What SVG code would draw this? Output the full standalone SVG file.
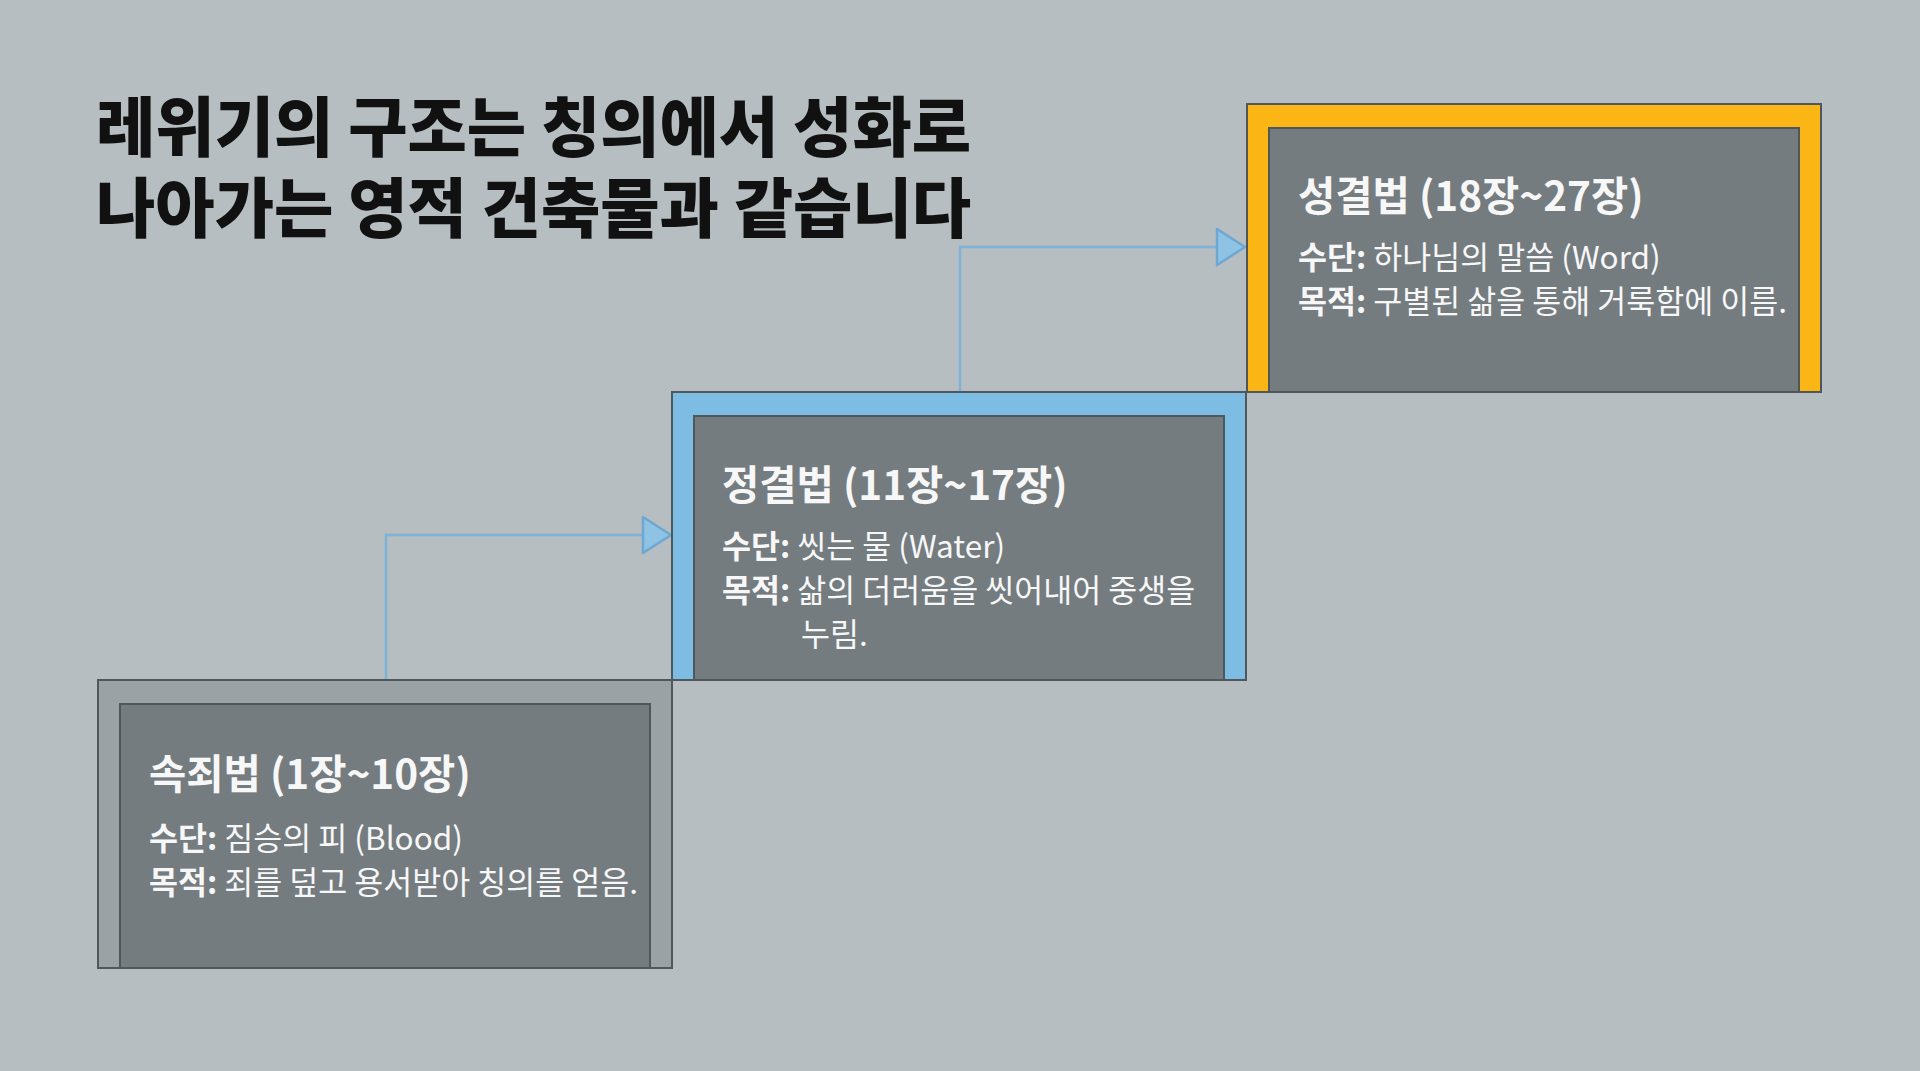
<svg xmlns="http://www.w3.org/2000/svg" width="1920" height="1071" viewBox="0 0 1920 1071">
  <defs>
    <style>
      .bg { fill: #b6bec1; }
      .outer { stroke: #4f575a; stroke-width: 2; }
      .inner { fill: #747c80; stroke: #4f575a; stroke-width: 2; }
      .title { font-family: "Noto Sans CJK KR", "Noto Sans", sans-serif; font-weight: 900; font-size: 64.5px; fill: #111111; }
      .h { font-family: "Noto Sans CJK KR", "Noto Sans", sans-serif; font-weight: 700; font-size: 40.5px; fill: #f7f7f7; }
      .b { font-family: "Noto Sans CJK KR", "Noto Sans", sans-serif; font-weight: 400; font-size: 31.5px; fill: #f7f7f7; }
      .b tspan.k { font-weight: 700; }
      .conn { fill: none; stroke: #7eb2d8; stroke-width: 2.5; }
      .head { fill: #8ec3e4; stroke: #6ea7d1; stroke-width: 2.5; stroke-linejoin: round; }
    </style>
  </defs>
  <rect class="bg" x="0" y="0" width="1920" height="1071"/>

  <g id="title">
    <text class="title" x="96" y="151">레위기의 구조는 칭의에서 성화로<tspan x="96" y="232">나아가는 영적 건축물과 같습니다</tspan></text>
  </g>

  <g id="connectors">
    <polyline class="conn" points="386,680 386,535 643,535"/>
    <polygon class="head" points="643,517 671,535 643,553"/>
    <polyline class="conn" points="960,392 960,247 1217,247"/>
    <polygon class="head" points="1217,229 1245,247 1217,265"/>
  </g>

  <g id="node-sokjoe">
    <rect class="outer" x="98" y="680" width="574" height="288" fill="#9aa2a5"/>
    <rect class="inner" x="120" y="704" width="530" height="264"/>
    <text class="h" x="149" y="789">속죄법 (1장~10장)</text>
    <text class="b" x="149" y="850"><tspan class="k">수단:</tspan> 짐승의 피 (Blood)</text>
    <text class="b" x="149" y="894"><tspan class="k">목적:</tspan> 죄를 덮고 용서받아 칭의를 얻음.</text>
  </g>

  <g id="node-jeonggyeol">
    <rect class="outer" x="672" y="392" width="574" height="288" fill="#7dbde3"/>
    <rect class="inner" x="694" y="416" width="530" height="264"/>
    <text class="h" x="722" y="500">정결법 (11장~17장)</text>
    <text class="b" x="722" y="558"><tspan class="k">수단:</tspan> 씻는 물 (Water)</text>
    <text class="b" x="722" y="602"><tspan class="k">목적:</tspan> 삶의 더러움을 씻어내어 중생을</text>
    <text class="b" x="801" y="646">누림.</text>
  </g>

  <g id="node-seonggyeol">
    <rect class="outer" x="1247" y="104" width="574" height="288" fill="#fbb514"/>
    <rect class="inner" x="1269" y="128" width="530" height="264"/>
    <text class="h" x="1298" y="211">성결법 (18장~27장)</text>
    <text class="b" x="1298" y="269"><tspan class="k">수단:</tspan> 하나님의 말씀 (Word)</text>
    <text class="b" x="1298" y="313"><tspan class="k">목적:</tspan> 구별된 삶을 통해 거룩함에 이름.</text>
  </g>
</svg>
